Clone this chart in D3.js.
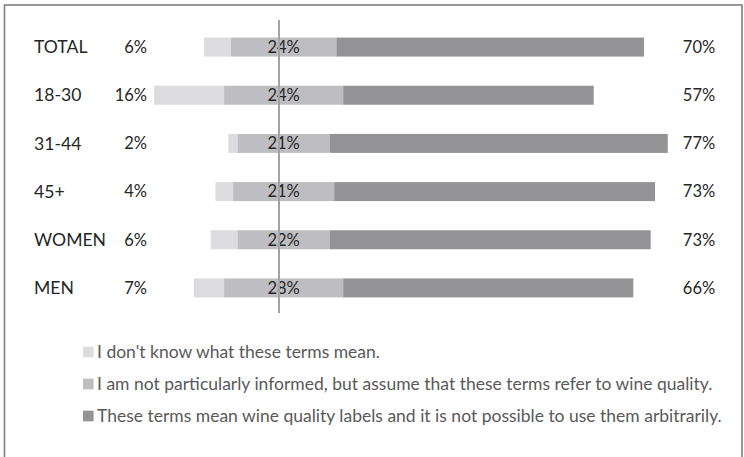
<!DOCTYPE html>
<html>
<head>
<meta charset="utf-8">
<script src="https://cdn.jsdelivr.net/npm/d3@7"></script>
<style>
  html, body { margin: 0; padding: 0; background: #fff; }
  svg { display: block; }
  text { font-family: Lato, "Open Sans", sans-serif; }
</style>
</head>
<body>
<svg id="chart" width="744" height="457"></svg>
<script>
// ---- data ----
const categories = ["TOTAL", "18-30", "31-44", "45+", "WOMEN", "MEN"];
// bar lengths, % (measured from the bars)
const dontKnow     = [6.1, 15.9, 2.1, 4.0, 6.1, 6.9];
const notInformed  = [24.0, 27.1, 21.0, 23.0, 21.0, 27.1];
const qualityLabel = [70.0, 57.0, 76.9, 73.0, 73.0, 66.0];
// printed data labels
const dontKnowLabels     = ["6%", "16%", "2%", "4%", "6%", "7%"];
const notInformedLabels  = ["24%", "24%", "21%", "21%", "22%", "28%"];
const qualityLabelLabels = ["70%", "57%", "77%", "73%", "73%", "66%"];
const seriesNames = [
  "I don't know what these terms mean.",
  "I am not particularly informed, but assume that these terms refer to wine quality.",
  "These terms mean wine quality labels and it is not possible to use them arbitrarily."
];
const colors = ["#dcdcdf", "#bebdc1", "#939396"];

const svg = d3.select("#chart");

// frame
svg.append("rect")
  .attr("x", 4.5).attr("y", 5).attr("width", 737.5).attr("height", 470)
  .attr("fill", "none").attr("stroke", "#7f7f7f").attr("stroke-width", 1.6);

// scales: the middle series is centred on 0
const x = d3.scaleLinear().domain([-50, 50]).range([63.9, 503.4]);
const y = d3.scaleBand().domain(categories).range([23, 312])
  .paddingInner(0.606).paddingOuter(0.303);

const rows = categories.map((c, i) => {
  const m0 = -notInformed[i] / 2;
  return {
    cat: c,
    segs: [
      { s: 0, x0: m0 - dontKnow[i], x1: m0 },
      { s: 1, x0: m0, x1: m0 + notInformed[i] },
      { s: 2, x0: m0 + notInformed[i], x1: m0 + notInformed[i] + qualityLabel[i] }
    ],
    i
  };
});

const g = svg.append("g");
const rowG = g.selectAll("g.row").data(rows).join("g").attr("class", "row");

rowG.selectAll("rect").data(d => d.segs.map(s => ({ ...s, cat: d.cat })))
  .join("rect")
  .attr("x", d => x(d.x0))
  .attr("width", d => x(d.x1) - x(d.x0))
  .attr("y", d => y(d.cat))
  .attr("height", y.bandwidth())
  .attr("fill", d => colors[d.s]);

// centre line
svg.append("line")
  .attr("x1", 279).attr("x2", 279).attr("y1", 20).attr("y2", 313)
  .attr("stroke", "#a3a3a3").attr("stroke-width", 2);

const fs = 16.5;
const cy = c => y(c) + y.bandwidth() / 2;

// category labels
g.selectAll("text.cat").data(categories).join("text")
  .attr("class", "cat")
  .attr("x", 34).attr("y", d => cy(d)).attr("dy", "0.35em")
  .attr("font-size", 17.6).attr("fill", "#262626")
  .text(d => d);

// left labels
g.selectAll("text.l0").data(categories).join("text")
  .attr("class", "l0")
  .attr("x", 147).attr("y", d => cy(d)).attr("dy", "0.35em")
  .attr("text-anchor", "end")
  .attr("font-size", fs).attr("fill", "#262626")
  .text((d, i) => dontKnowLabels[i]);

// middle labels
g.selectAll("text.l1").data(rows).join("text")
  .attr("class", "l1")
  .attr("x", d => x(0)).attr("y", d => cy(d.cat)).attr("dy", "0.35em")
  .attr("text-anchor", "middle")
  .attr("font-size", fs).attr("fill", "#262626")
  .text(d => notInformedLabels[d.i]);

// right labels
g.selectAll("text.l2").data(categories).join("text")
  .attr("class", "l2")
  .attr("x", 699).attr("y", d => cy(d)).attr("dy", "0.35em")
  .attr("text-anchor", "middle")
  .attr("font-size", fs).attr("fill", "#262626")
  .text((d, i) => qualityLabelLabels[i]);

// legend
const leg = svg.append("g").selectAll("g").data(seriesNames).join("g")
  .attr("transform", (d, i) => `translate(83, ${352 + i * 32})`);
leg.append("rect").attr("x", 0).attr("y", -5.3).attr("width", 10.6).attr("height", 10.6)
  .attr("fill", (d, i) => colors[i]);
leg.append("text").attr("x", 14).attr("y", 0).attr("dy", "0.35em")
  .attr("font-size", 17.5).attr("fill", "#595959")
  .text(d => d);
</script>
</body>
</html>
